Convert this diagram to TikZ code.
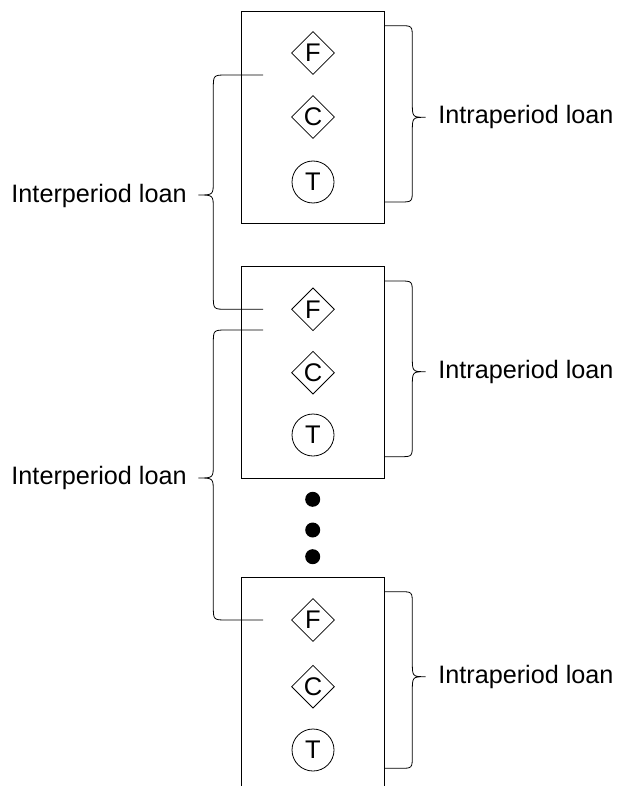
\documentclass[tikz,border=0pt]{standalone}
\usepackage{fontspec}
\setmainfont{Liberation Sans}
\usetikzlibrary{shapes.geometric}
\begin{document}
\begin{tikzpicture}[x=1pt,y=-1pt,line width=0.8pt,
  period/.style={draw,rectangle,minimum width=142.5pt,minimum height=211.3pt,inner sep=0pt},
  dshape/.style={draw,diamond,minimum width=43pt,minimum height=43pt,inner sep=0pt,font=\fontsize{25.5}{26}\selectfont},
  cshape/.style={draw,circle,minimum size=42pt,inner sep=0pt,font=\fontsize{25.5}{26}\selectfont},
  dotnode/.style={fill,circle,minimum size=15pt,inner sep=0pt},
  lbl/.style={inner sep=0pt,font=\fontsize{25.2}{26}\selectfont}]
\useasboundingbox (0,0) rectangle (616,786);
% boxes
\node[period] (b1) at (313,117.35) {};
\node[period] (b2) at (313,372.5) {};
\node[period] (b3) at (313,682.95) {};
% items
\node[dshape] (f1) at (313,53) {F};
\node[dshape] (c1) at (313,117) {C};
\node[cshape] (t1) at (313,182) {T};
\node[dshape] (f2) at (313,309.3) {F};
\node[dshape] (c2) at (313,372.7) {C};
\node[cshape] (t2) at (313,435) {T};
\node[dshape] (f3) at (313,620) {F};
\node[dshape] (c3) at (313,686.7) {C};
\node[cshape] (t3) at (313,750) {T};
% dots
\node[dotnode] (d1) at (312.7,499.3) {};
\node[dotnode] (d2) at (312.7,530) {};
\node[dotnode] (d3) at (312.7,556.7) {};
% labels
\node[lbl,anchor=west] (r1) at (438,117.3) {Intraperiod loan};
\node[lbl,anchor=west] (r2) at (438,371.7) {Intraperiod loan};
\node[lbl,anchor=west] (r3) at (438,676.7) {Intraperiod loan};
\node[lbl,anchor=east] (l1) at (187,195.5) {Interperiod loan};
\node[lbl,anchor=east] (l2) at (187,478) {Interperiod loan};
% right braces
\foreach \yt/\ym/\yb in {25.7/117.3/202, 281/371.7/456.7, 591.7/676.7/768.3}{
  \draw (384.2,\yt) -- (400,\yt) .. controls (412.3,\yt) .. (412.3,\yt+13)
    -- (412.3,\ym-15) .. controls (412.3,\ym) .. (425.7,\ym)
    .. controls (412.3,\ym) .. (412.3,\ym+15)
    -- (412.3,\yb-13) .. controls (412.3,\yb) .. (400,\yb) -- (384.2,\yb);
}
% left braces
\foreach \yt/\ym/\yb in {75/195/309.3, 330/478/620}{
  \draw (263,\yt) -- (227,\yt) .. controls (213.3,\yt) .. (213.3,\yt+14)
    -- (213.3,\ym-14) .. controls (213.3,\ym) .. (198.3,\ym)
    .. controls (213.3,\ym) .. (213.3,\ym+14)
    -- (213.3,\yb-14) .. controls (213.3,\yb) .. (227,\yb) -- (263,\yb);
}
\end{tikzpicture}
\end{document}
